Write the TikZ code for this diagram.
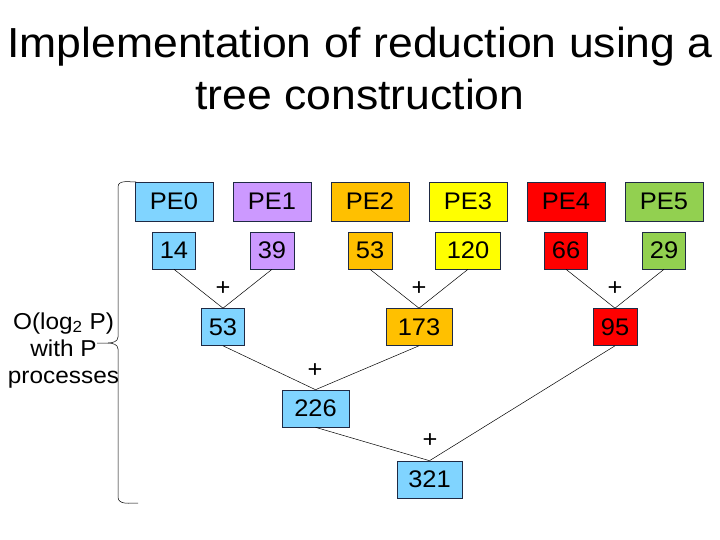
\documentclass[tikz,border=0pt]{standalone}
\usepackage{fontspec}
\setmainfont[FakeStretch=1.06]{Liberation Sans}
\usepackage{xcolor}
\definecolor{frame}{HTML}{1F2A44}
\definecolor{peblue}{HTML}{80D4FF}
\definecolor{pepurple}{HTML}{CC99FF}
\definecolor{peorange}{HTML}{FFC000}
\definecolor{peyellow}{HTML}{FFFF00}
\definecolor{pered}{HTML}{FF0000}
\definecolor{pegreen}{HTML}{92D050}

\begin{document}
\begin{tikzpicture}[x=1pt, y=-1pt]
  % --- the constants everything else is derived from -----------------------
  \def\cx{174}    % centre of the first PE column
  \def\dx{98}     % column pitch
  \def\ry{201.5}  % PE row
  \def\vy{250.5}  % value row
  \def\sy{327}    % first partial sums
  \def\py{289}    % plus signs of the first level

  \tikzset{
    big/.style={font=\fontsize{24}{26}\selectfont},
    pebox/.style={big, draw=frame, line width=0.6pt, inner sep=0pt,
      minimum width=78pt, minimum height=39pt},
    valbox/.style={big, draw=frame, line width=0.6pt, inner sep=0pt,
      minimum height=37pt},
    opsign/.style={big, inner sep=0pt},
    wire/.style={draw=black, line width=0.5pt}}

  \useasboundingbox (0,0) rectangle (720,540);

  % ---- 1. title -----------------------------------------------------------
  \node[font=\fontsize{42}{52}\selectfont, anchor=base] (title1) at (360,58)
    {Implementation of reduction using a};
  \node[font=\fontsize{42}{52}\selectfont, anchor=base] (title2) at (360,110)
    {tree construction};

  % ---- 2. one PE per column, with its value below -------------------------
  \foreach \i/\c/\v/\w in {0/peblue/14/43, 1/pepurple/39/44,
      2/peorange/53/44, 3/peyellow/120/65, 4/pered/66/43, 5/pegreen/29/43}{
    \node[pebox, fill=\c] (pe\i) at (\cx+\i*\dx,\ry) {PE\i};
    \node[valbox, fill=\c, minimum width=\w pt] (v\i) at (\cx+\i*\dx,\vy) {\v};}

  % ---- 3. the partial sums ------------------------------------------------
  \node[valbox, fill=peblue,   minimum width=43pt] (s0) at (223,\sy) {53};
  \node[valbox, fill=peorange, minimum width=66pt] (s1) at (419,\sy) {173};
  \node[valbox, fill=pered,    minimum width=44pt] (s2) at (615,\sy) {95};
  \node[valbox, fill=peblue,   minimum width=67pt] (s3) at (315.5,408.5) {226};
  \node[valbox, fill=peblue,   minimum width=65pt] (root) at (429.5,479.5) {321};

  % ---- 4. the tree --------------------------------------------------------
  \foreach \a/\b in {v0/s0, v1/s0, v2/s1, v3/s1, v4/s2, v5/s2,
      s0/s3, s1/s3, s3/root, s2/root}{
    \draw[wire] (\a.south) -- (\b.north);}

  \node[opsign] (op0) at (223,\py) {+};
  \node[opsign] (op1) at (419,\py) {+};
  \node[opsign] (op2) at (615,\py) {+};
  \node[opsign] (op3) at (315,371) {+};
  \node[opsign] (op4) at (430,441) {+};

  % ---- 5. the cost, on a brace over the whole height ----------------------
  % base of a multi-line node is its last line
  \node[align=center, anchor=base, font=\fontsize{23}{27}\selectfont]
    (cost) at (63.5,383) {O(log\textsubscript{2} P)\\with P\\processes};
  \draw[line width=0.5pt] (136,182) to[out=180,in=90] (118,187)
    -- (118,337) to[out=270,in=0] (108,343) -- (97,343);
  \draw[line width=0.5pt] (108,343) to[out=0,in=90] (118,349)
    -- (118,497) to[out=270,in=180] (138,503);
\end{tikzpicture}
\end{document}
